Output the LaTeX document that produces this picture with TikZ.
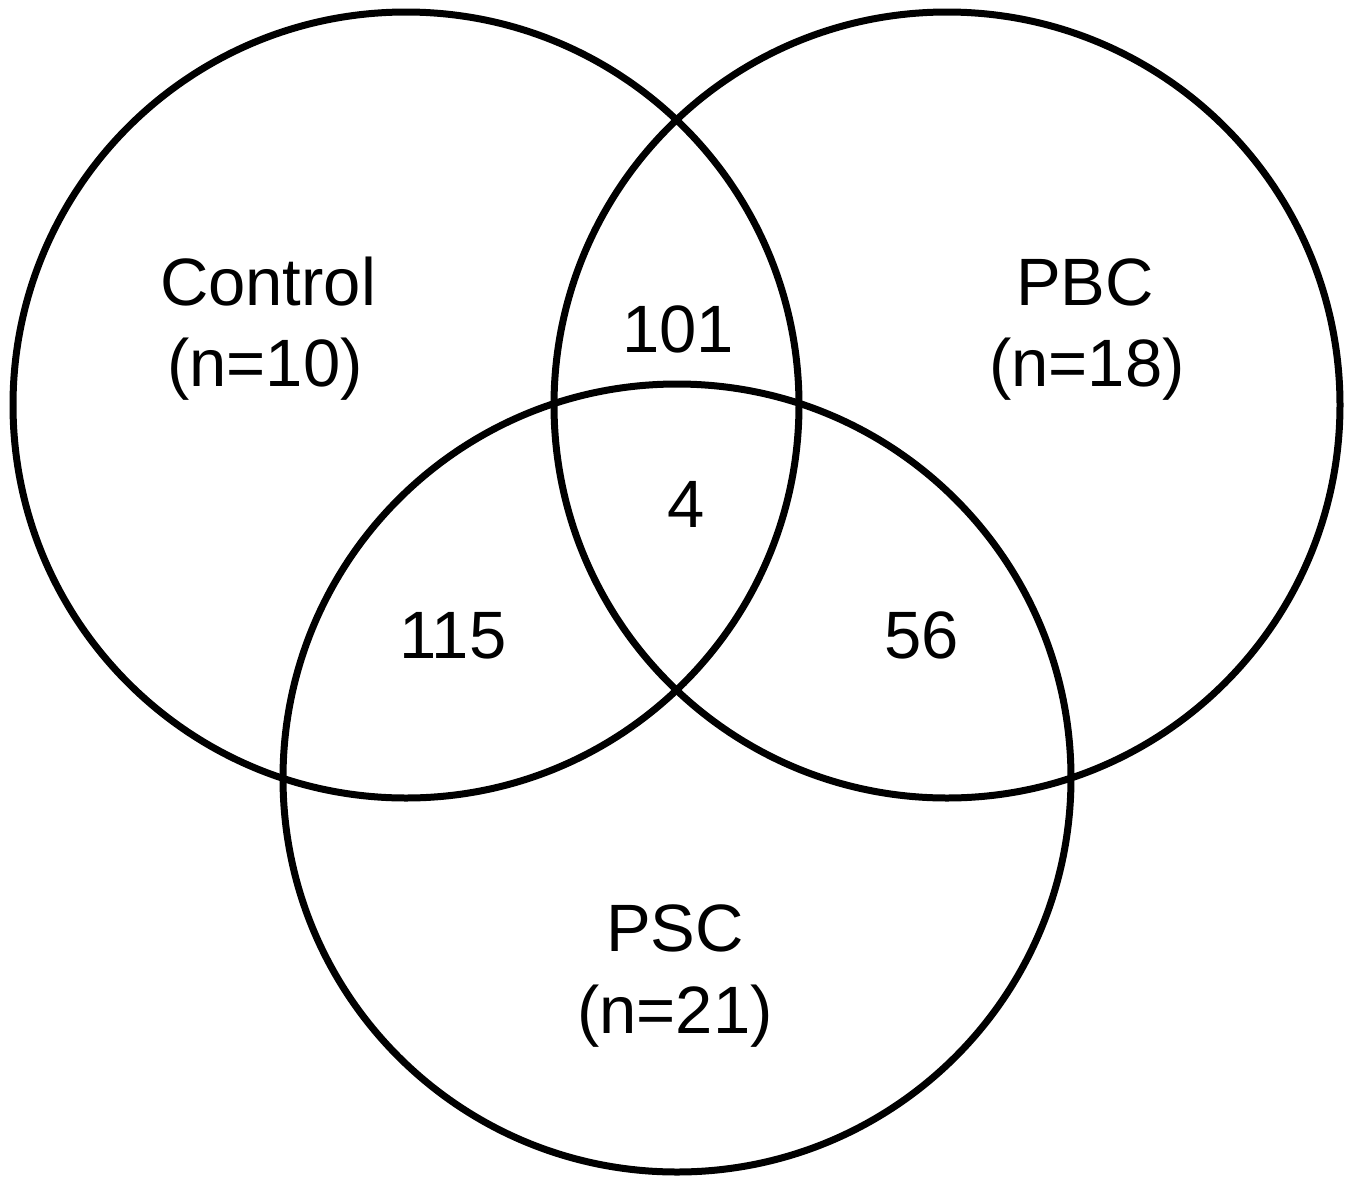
\documentclass[tikz,border=0pt]{standalone}
\usepackage{fontspec}
\setmainfont{Liberation Sans}
\begin{document}
\begin{tikzpicture}[x=1pt,y=-1pt,
  ring/.style={draw=black,line width=7pt},
  lbl/.style={anchor=base,inner sep=0pt,font=\fontsize{67}{80}\selectfont}]
\useasboundingbox (0,0) rectangle (1350,1176);
\draw[ring] (406,405) circle[radius=393];
\draw[ring] (947,405) circle[radius=393];
\draw[ring] (677,778) circle[radius=394];
\node[lbl] (c1) at (268,305) {Control};
\node[lbl] (c2) at (265,386) {(n=10)};
\node[lbl] (p1) at (1085,305) {PBC};
\node[lbl] (p2) at (1087,386) {(n=18)};
\node[lbl] (s1) at (675,951) {PSC};
\node[lbl] (s2) at (675,1033) {(n=21)};
\node[lbl] (a) at (678,352) {101};
\node[lbl] (b) at (686,527) {4};
\node[lbl] (d) at (453,658) {115};
\node[lbl] (e) at (922,658) {56};
\end{tikzpicture}
\end{document}
